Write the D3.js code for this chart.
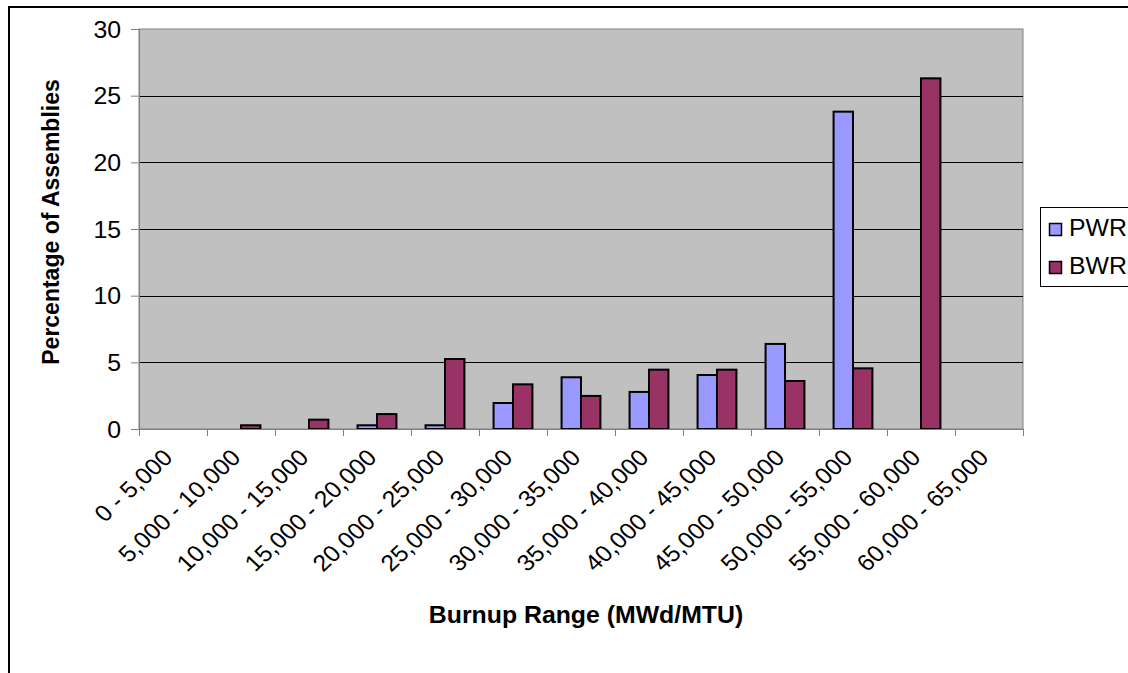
<!DOCTYPE html>
<html><head><meta charset="utf-8">
<script src="https://cdn.jsdelivr.net/npm/d3@7"></script>
<style>body{margin:0;background:#fff}svg{display:block}text{font-family:"Liberation Sans",Arial,sans-serif}</style>
</head><body>
<svg id="c" width="1128" height="673"></svg>
<script>
const categories = ["0 - 5,000","5,000 - 10,000","10,000 - 15,000","15,000 - 20,000","20,000 - 25,000","25,000 - 30,000","30,000 - 35,000","35,000 - 40,000","40,000 - 45,000","45,000 - 50,000","50,000 - 55,000","55,000 - 60,000","60,000 - 65,000"];
const seriesNames = ["PWR","BWR"];
const pwr = [0,0,0,0.28,0.28,1.95,3.88,2.78,4.05,6.38,23.8,0,0];
const bwr = [0,0.28,0.7,1.12,5.25,3.35,2.48,4.45,4.45,3.6,4.55,26.3,0];
const yTicks = [0,5,10,15,20,25,30];
const colors = ["#9999FF","#993366"];
const SX = 1.08;

const svg = d3.select("#c");
const L=139, R=1023, T=29, B=429;
// outer border
svg.append("rect").attr("x",9).attr("y",7).attr("width",1140).attr("height",700).attr("fill","none").attr("stroke","#000").attr("stroke-width",2);

const x = d3.scaleBand().domain(categories).range([L,R]);
const y = d3.scaleLinear().domain([0,30]).range([B,T]);
svg.append("rect").attr("x",L).attr("y",T).attr("width",R-L).attr("height",B-T).attr("fill","#C0C0C0").attr("stroke","#808080");
// gridlines
svg.append("g").selectAll("line").data(yTicks.filter(d=>d>0&&d<30)).join("line")
  .attr("x1",L).attr("x2",R).attr("y1",d=>Math.round(y(d))+0.5).attr("y2",d=>Math.round(y(d))+0.5).attr("stroke","#000");

const bw = x.bandwidth()/3.5;
const g = svg.append("g");
categories.forEach((c,i)=>{
  [pwr[i],bwr[i]].forEach((v,s)=>{
    if(v<=0) return;
    const x0 = x(c)+x.bandwidth()/2 + (s-1)*bw;
    g.append("rect").attr("x",x0).attr("y",y(v)).attr("width",bw).attr("height",B-y(v))
      .attr("fill",colors[s]).attr("stroke","#000").attr("stroke-width",2);
  });
});

// y axis
const ya = svg.append("g").attr("transform",`translate(${L},0)`).call(d3.axisLeft(y).tickValues(yTicks).tickSize(8).tickPadding(10));
ya.select(".domain").attr("stroke","#808080");
ya.selectAll(".tick line").attr("stroke","#808080");
ya.selectAll("text").attr("x",null).attr("dy",null)
  .attr("transform",`translate(-18,8) scale(${SX},1)`)
  .attr("font-size",23).attr("fill","#000").attr("font-family","Liberation Sans, Arial, sans-serif");
// x axis
const xa = svg.append("g").attr("transform",`translate(0,${B})`);
xa.append("line").attr("x1",L).attr("x2",R).attr("y1",0.5).attr("y2",0.5).attr("stroke","#808080");
const bounds = categories.map(c=>x(c)).concat([R]);
xa.selectAll("line.t").data(bounds).join("line").attr("class","t")
  .attr("x1",d=>Math.round(d)+0.5).attr("x2",d=>Math.round(d)+0.5).attr("y1",0).attr("y2",7).attr("stroke","#808080");
xa.selectAll("text").data(categories).join("text")
  .attr("transform",d=>`translate(${x(d)+x.bandwidth()/2+1},${30}) scale(${SX},1) rotate(-45)`)
  .attr("text-anchor","end").attr("font-size",23).attr("fill","#000").text(d=>d);

svg.append("text").attr("transform",`translate(586,623) scale(${SX},1)`).attr("text-anchor","middle").attr("font-size",23).attr("font-weight","bold").text("Burnup Range (MWd/MTU)");
svg.append("text").attr("transform",`translate(59,222) rotate(-90)`).attr("text-anchor","middle").attr("font-size",23).attr("font-weight","bold").text("Percentage of Assemblies");

// legend
const lg = svg.append("g");
lg.append("rect").attr("x",1040.5).attr("y",207.5).attr("width",100).attr("height",79).attr("fill","#fff").attr("stroke","#000");
seriesNames.forEach((n,i)=>{
  const yy = 223 + i*38;
  lg.append("rect").attr("x",1049.5).attr("y",yy+0.5).attr("width",12).attr("height",12).attr("fill",colors[i]).attr("stroke","#000").attr("stroke-width",1.5);
  lg.append("text").attr("transform",`translate(1069,${yy+13}) scale(${SX},1)`).attr("font-size",23).text(n);
});
</script>
</body></html>
